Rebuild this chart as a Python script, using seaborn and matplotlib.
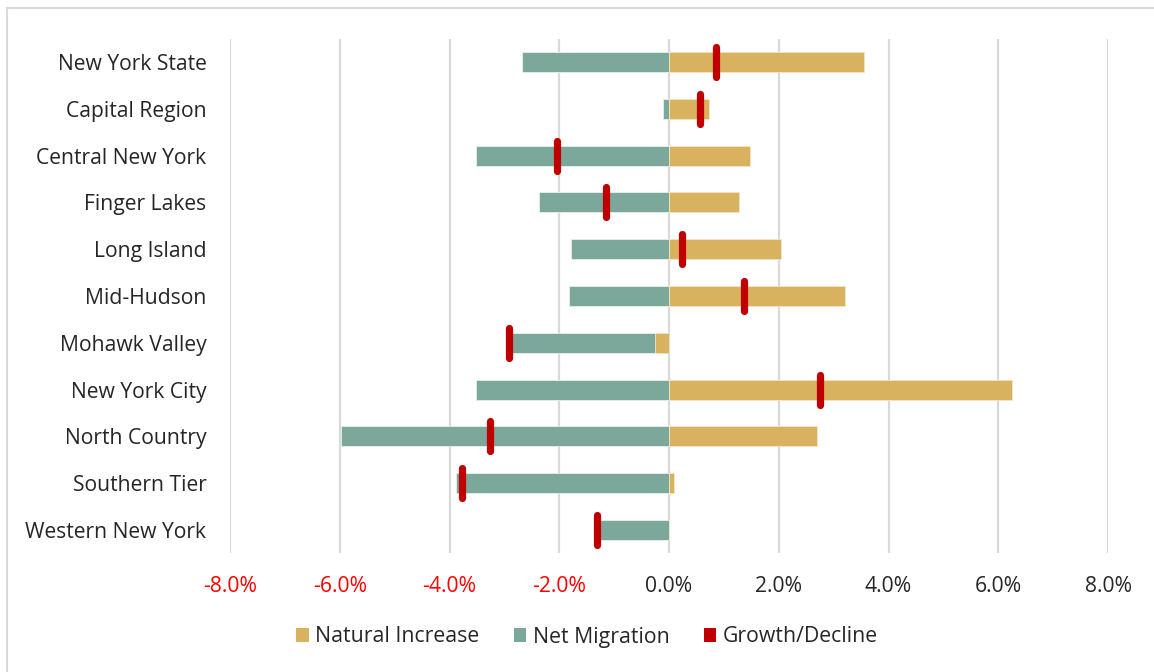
import matplotlib
matplotlib.use("Agg")
import matplotlib.pyplot as plt
from matplotlib.patches import Patch
from matplotlib.lines import Line2D
import numpy as np
import pandas as pd
import seaborn as sns

# Components of population change, 2010-2020 (% of base population)
regions = [
    "New York State", "Capital Region", "Central New York", "Finger Lakes",
    "Long Island", "Mid-Hudson", "Mohawk Valley", "New York City",
    "North Country", "Southern Tier", "Western New York",
]
natural_increase = [3.55, 0.73, 1.47, 1.27, 2.05, 3.20, -0.25, 6.25, 2.69, 0.09, 0.00]
net_migration = [-2.67, -0.11, -3.51, -2.36, -1.78, -1.82, -2.64, -3.51, -5.98, -3.89, -1.26]
growth_decline = [0.86, 0.56, -2.05, -1.14, 0.24, 1.37, -2.92, 2.75, -3.27, -3.78, -1.31]
tick_values = [-8, -6, -4, -2, 0, 2, 4, 6, 8]

ni_color = "#D9B25F"
nm_color = "#7BA89A"
gd_color = "#C00000"
font = ["Open Sans", "DejaVu Sans"]

sns.set_theme(style="white")
plt.rcParams["font.family"] = font

df = pd.DataFrame({
    "region": regions,
    "ni": natural_increase,
    "nm": net_migration,
    "gd": growth_decline,
})
# negative values stack outward from zero, as in a stacked bar chart
df["nm_end"] = df["nm"] + df["ni"].clip(upper=0)

fig = plt.figure(figsize=(11.54, 6.72), dpi=100)
ax = fig.add_axes([230 / 1154, (672 - 553.4) / 672, 878 / 1154, 514.8 / 672])

for x in tick_values:
    ax.axvline(x, color="#D9D9D9", lw=1.6, zorder=0)

bar_w = 0.43
sns.barplot(data=df, y="region", x="nm_end", orient="h", color=nm_color,
            width=bar_w, saturation=1, edgecolor="#E8EFEC", linewidth=0.6,
            ax=ax, zorder=2)
sns.barplot(data=df, y="region", x="ni", orient="h", color=ni_color,
            width=bar_w, saturation=1, edgecolor="#F3E6C6", linewidth=0.6,
            ax=ax, zorder=3)
sns.scatterplot(data=df, y="region", x="gd", marker="|", s=440,
                color=gd_color, linewidth=5.2, ax=ax, zorder=5, legend=False)
for coll in ax.collections:
    coll.set_capstyle("round")

ax.set_xlim(-8, 8)
ax.set_ylim(10.5, -0.5)
ax.set_xticks(tick_values)
ax.set_xticklabels([f"{v:.1f}%" for v in tick_values])
for lbl, v in zip(ax.get_xticklabels(), tick_values):
    lbl.set_color("#FF0000" if v < 0 else "#262626")
ax.tick_params(axis="x", labelsize=15.2, pad=16, length=0)
ax.tick_params(axis="y", labelsize=15.2, pad=17, length=0, labelcolor="#262626")
ax.set_xlabel("")
ax.set_ylabel("")
for s in ax.spines.values():
    s.set_visible(False)

handles = [
    Patch(facecolor=ni_color, edgecolor="none", label="Natural Increase"),
    Patch(facecolor=nm_color, edgecolor="none", label="Net Migration"),
    Patch(facecolor=gd_color, edgecolor="none", label="Growth/Decline"),
]
fig.legend(handles=handles, loc="center", bbox_to_anchor=(587 / 1154, 1 - 637 / 672),
           ncol=3, frameon=False, fontsize=15.3, handlelength=0.6, handleheight=0.6,
           handletextpad=0.3, columnspacing=1.6, labelcolor="#262626")

# outer chart frame
fig.add_artist(Line2D([7 / 1154, 1], [1 - 8 / 672, 1 - 8 / 672], color="#D9D9D9", lw=1.5))
fig.add_artist(Line2D([7 / 1154, 7 / 1154], [0, 1 - 8 / 672], color="#D9D9D9", lw=1.5))

fig.savefig("out.png", dpi=100)
